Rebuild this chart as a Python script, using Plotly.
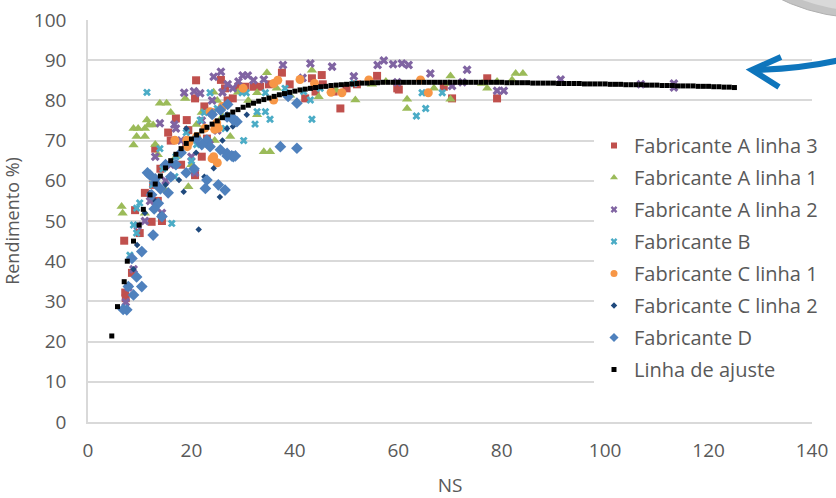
import plotly.graph_objects as go

# ---------------- data ----------------
a3_x = [20.9, 25.7, 20.7, 17, 19.1, 19.4, 13, 12.6, 9.1, 12.3, 7.0, 8.5, 7.2, 7.3, 20.7, 14.3,
        29.1, 30.4, 32, 33.3, 37.5, 43.3, 45.2, 45.4, 47.5, 44, 48.8, 55.9, 59.8, 60.1, 68.8, 70.4,
        77.2, 79.1, 16, 18, 22, 15.5, 24, 27, 22.5, 26.5, 14, 11, 10, 28, 35, 39, 52, 50, 42, 23, 19, 13.5]
a3_y = [85, 85.1, 80.5, 75.5, 75.1, 72.6, 68, 59, 52.7, 49.8, 45.1, 37.1, 32.2, 30.8, 61.4, 50,
        83.4, 83.4, 83.4, 83.4, 86.9, 85.5, 86.3, 84, 82.2, 82.2, 78, 86.1, 83, 82.7, 83.4, 80.5,
        85.5, 80.5, 70, 64, 66, 72, 77, 80, 78.5, 83, 63, 57, 47, 80.5, 84, 84, 84, 83, 80.5, 70.5, 69, 55]

a1_x = [13.9, 15.2, 18.8, 24.3, 11.4, 8.8, 9.7, 11, 12.6, 11.7, 8.8, 9.4, 11, 6.5, 6.7, 11, 19.4, 14.9,
        34.6, 32.7, 39.1, 44.6, 51.7, 43.3, 54.9, 57.6, 34, 35.2, 32.7, 27.5, 61.7, 61.7, 66.9, 70.1,
        69.8, 70.1, 76.2, 77.2, 79.1, 82, 82.7, 84.1, 20, 22, 17, 24.5, 26, 29, 31, 16, 21, 13, 25,
        36.5, 48, 13.5]
a1_y = [79.3, 79.3, 80.5, 82, 75.1, 73, 73, 73, 73.9, 73.9, 68.9, 71, 71, 53.6, 51.9, 51.9, 58.5, 57.7,
        86.9, 81.9, 81.3, 80.9, 80.1, 87.5, 84, 84.7, 67.2, 67.2, 76.4, 71, 80.3, 78, 83, 86.1,
        84.2, 80.3, 84.2, 83, 84.7, 85.1, 86.7, 86.7, 64, 77, 66, 70, 76, 82, 80, 77, 74, 69, 80,
        83, 82.5, 66.5]

a2_x = [24.3, 25.7, 18.6, 20.5, 21.7, 13.9, 16.7, 17, 13, 20.7, 14.3, 9.6, 7.8, 7.3, 8.8, 29.1, 29.9,
        30.9, 34, 37.7, 43, 47.2, 41.5, 51.4, 57.2, 56, 59, 60.7, 62, 66.2, 73.3, 70.4, 72.4, 79.1,
        80.4, 91.4, 59.8, 106.9, 113.3, 113.3, 24, 26, 22, 18, 16, 27, 32, 15, 12, 11, 23.5, 20, 25, 28]
a2_y = [85.9, 87.1, 81.9, 82.3, 81.8, 74.3, 74, 73, 66, 62, 52, 48.8, 33.5, 29.8, 38, 84.7, 86.2,
        86.2, 85.2, 88.8, 89.2, 88.4, 85.6, 86, 89.9, 88.8, 89, 89.2, 88.8, 86.7, 87.6, 83.6, 84.5, 82.4,
        82.4, 85.2, 84.5, 84, 84.2, 83.2, 80, 82, 75, 70, 64, 84, 85, 60, 55, 50, 69, 66, 72.5, 83]

b_x = [11.4, 23.6, 21.7, 13.9, 16.8, 9.4, 8.8, 16.2, 8.1, 9.4, 29.8, 30.6, 34.3, 38.1, 41.7, 43, 44.9,
       51.4, 34.3, 32.7, 35.2, 32.3, 43.3, 30.1, 64.6, 68.5, 65.3, 63.5, 19, 21, 25, 17, 12.5, 14.5, 27,
       20, 10, 26.5, 22.5]
b_y = [82, 81.9, 75.1, 68, 61, 53.2, 49, 49.4, 41.5, 47, 81.9, 81.9, 81.9, 83, 82.2, 80.1, 83,
       84.2, 77.2, 77.2, 75.3, 74.1, 75.3, 70, 81.9, 81.9, 78, 76.1, 72, 69, 78, 66, 59, 63, 76,
       65, 54.5, 73, 77]

c1_x = [23.6, 24.9, 25.2, 22.6, 24.5, 16.8, 19.1, 19.2, 24.3, 35.9, 36.7, 41, 43.8, 49.1, 54.3, 35.9,
        64.3, 65.8, 25, 24, 19.5, 21, 26, 30, 47]
c1_y = [77.2, 74.4, 73.1, 73.1, 72.8, 70.1, 70.1, 68.5, 66, 84.2, 85, 85.2, 84.2, 81.9, 85.1, 80.1,
        85.1, 81.9, 64.5, 65.5, 69.5, 71, 78.5, 83, 82]

c2_x = [19, 26.9, 20.9, 24.3, 21.4, 18.5, 17.6, 30.7, 8.8, 15, 13, 11, 22.5, 25.5, 28, 16.5, 12, 9.5,
        14, 23, 26]
c2_y = [73, 73, 67, 63.1, 47.9, 57.3, 60.2, 76.4, 38, 59, 55, 52, 61, 56, 73.5, 64, 57, 44,
        51.5, 58, 70]

d_x = [25.6, 26.9, 28.1, 28.8, 23, 23.6, 25.6, 26.9, 28.1, 12, 13, 12.3, 13.6, 14.3, 12.6, 10.4, 8.5,
       9.4, 10.4, 7.8, 8.8, 7.5, 6.8, 23, 25.2, 26.5, 22.7, 37.2, 40.4, 40.4, 38.7, 28.1, 26.9, 27.8,
       28.5, 11.5, 13, 14, 15.5, 16, 17, 19, 20.5, 22, 24, 27, 21, 18, 15, 12.8]
d_y = [77.6, 75.9, 75.1, 74.7, 70.1, 68.5, 67.7, 66.8, 66, 61.4, 59.4, 56.5, 54.4, 51.1, 46.5, 42.4, 40.7,
       36.1, 33.7, 33.7, 31.6, 27.9, 28, 60.2, 59, 57.7, 58.1, 68.5, 68.1, 79.3, 81, 75.5, 66.2, 66.2,
       66.2, 62, 60.5, 58, 57, 61, 64, 62, 63, 69, 76.5, 79, 70.5, 67, 64, 53]

fit_x = [4.6, 5.7, 7.0, 7.6, 8.8, 9.9, 10.7, 12, 13, 14, 15, 16, 17, 18, 19, 20, 21, 22, 23, 24, 25,
         26, 27, 28, 29, 30, 31, 32, 33, 34, 35, 36, 37, 38, 39, 40, 41, 42, 43, 44, 45, 46, 47, 48,
         49, 50, 51, 52, 53, 54, 55, 56, 57, 58, 59, 60, 61, 62, 63, 64, 65, 66, 67, 68, 69, 70, 71,
         72, 73, 74, 75, 76, 77, 78, 79, 80, 81, 82, 83, 84, 85, 86, 87, 88, 89, 90, 91, 92, 93, 94,
         95, 96, 97, 98, 99, 100, 101, 102, 103, 104, 105, 106, 107, 108, 109, 110, 111, 112, 113,
         114, 115, 116, 117, 118, 119, 120, 121, 122, 123, 124, 125]
fit_y = [21.4, 28.7, 34.9, 40.0, 45.0, 49.0, 52.9, 56.5, 59.2, 61.2, 63.2, 65.0, 66.6, 68.0, 69.3,
         70.4, 71.4, 72.4, 73.3, 74.1, 74.9, 75.7, 76.4, 77.1, 77.7, 78.3, 78.8, 79.3, 79.8, 80.2,
         80.6, 81.0, 81.4, 81.7, 82.0, 82.3, 82.6, 82.8, 83.0, 83.2, 83.4, 83.5, 83.7, 83.8, 83.9,
         84.0, 84.1, 84.2, 84.3, 84.3, 84.4, 84.4, 84.5, 84.5, 84.5, 84.5,
         84.5, 84.5, 84.5, 84.5, 84.5, 84.5, 84.5, 84.5, 84.5, 84.5, 84.5, 84.5, 84.5, 84.5, 84.5,
         84.5, 84.5, 84.5, 84.5, 84.5,
         84.4, 84.4, 84.4, 84.4, 84.4, 84.3, 84.3, 84.3, 84.3, 84.3,
         84.2, 84.2, 84.2, 84.2, 84.2, 84.1, 84.1, 84.1, 84.1, 84.1,
         84.0, 84.0, 84.0, 83.9, 83.9, 83.9, 83.9, 83.8, 83.8, 83.8,
         83.7, 83.7, 83.7, 83.6, 83.6, 83.6, 83.6, 83.5, 83.5, 83.5,
         83.4, 83.4, 83.3, 83.3, 83.2]

series_names = ["Fabricante A linha 3", "Fabricante A linha 1", "Fabricante A linha 2",
                "Fabricante B", "Fabricante C linha 1", "Fabricante C linha 2",
                "Fabricante D", "Linha de ajuste"]
x_ticks = [0, 20, 40, 60, 80, 100, 120, 140]
y_ticks = [0, 10, 20, 30, 40, 50, 60, 70, 80, 90, 100]

# ---------------- styling ----------------
styles = [
    (a3_x, a3_y, "square", "#C0504D", 8, 6),
    (a1_x, a1_y, "triangle-up", "#9BBB59", 9, 7),
    (a2_x, a2_y, "x", "#8064A2", 8, 6),
    (b_x, b_y, "x", "#4BACC6", 7, 6),
    (c1_x, c1_y, "circle", "#F79646", 9, 7),
    (c2_x, c2_y, "diamond", "#1F497D", 5, 5),
    (d_x, d_y, "diamond", "#4F81BD", 9, 7),
    (fit_x, fit_y, "square", "#000000", 5, 5),
]

FONT = "Open Sans"
GRAY = "#595959"

fig = go.Figure()
for (xs, ys, sym, col, sz, lsz), name in zip(styles, series_names):
    fig.add_trace(go.Scatter(
        x=xs, y=ys, mode="markers", name=name, showlegend=False,
        marker=dict(symbol=sym, color=col, size=sz, line=dict(width=0)),
    ))
# legend entries (small legend markers, like the original)
for (xs, ys, sym, col, sz, lsz), name in zip(styles, series_names):
    fig.add_trace(go.Scatter(
        x=[None], y=[None], mode="markers", name=name, legendgroup=name,
        marker=dict(symbol=sym, color=col, size=lsz, line=dict(width=0)),
    ))

# plot area in pixels
L, R, T, B = 88, 812, 20, 422
W, H = 836, 498


def pu(px):
    return (px - L) / (R - L)


def pv(py):
    return (B - py) / (B - T)


shapes = []
# decorative grey sphere at top-right
shapes.append(dict(type="circle", xref="paper", yref="paper",
                   x0=pu(673), x1=pu(1053), y0=pv(18), y1=pv(-362),
                   fillcolor="#c4c4c4", line=dict(color="#b0b0b0", width=1)))
shapes.append(dict(type="circle", xref="paper", yref="paper",
                   x0=pu(683), x1=pu(1045), y0=pv(11), y1=pv(-355),
                   fillcolor="#d9d9d9", line=dict(width=0)))
shapes.append(dict(type="circle", xref="paper", yref="paper",
                   x0=pu(700), x1=pu(1035), y0=pv(0), y1=pv(-345),
                   fillcolor="#ebebeb", line=dict(width=0)))


def P(px, py):
    return f"{pu(px):.5f},{pv(py):.5f}"


shaft = f"M {P(753, 70)} Q {P(800, 69)} {P(840, 60)}"
head = f"M {P(781, 57)} L {P(752, 70)} L {P(779, 87)}"
for pth in (shaft, head):
    shapes.append(dict(type="path", xref="paper", yref="paper", path=pth,
                       line=dict(color="#0E75BC", width=6)))

fig.update_layout(
    width=W, height=H,
    margin=dict(l=L, r=W - R, t=T, b=H - B, autoexpand=False),
    paper_bgcolor="white", plot_bgcolor="white",
    font=dict(family=FONT, size=19, color=GRAY),
    showlegend=True,
    legend=dict(x=pu(594), y=pv(126), xanchor="left", yanchor="top",
                bgcolor="white", font=dict(family=FONT, size=20, color=GRAY),
                tracegroupgap=3, itemsizing="trace"),
    shapes=shapes,
    xaxis=dict(range=[0, 140], tickvals=x_ticks, showgrid=False, zeroline=False,
               showline=True, linecolor="#d9d9d9", linewidth=1.5, automargin=False,
               ticks="", ticklabelstandoff=10,
               title=dict(text="NS", font=dict(size=19, color=GRAY), standoff=19),
               tickfont=dict(size=19, color=GRAY)),
    yaxis=dict(range=[0, 100], tickvals=y_ticks, showgrid=True, gridcolor="#d9d9d9", gridwidth=1.5,
               zeroline=False, showline=True, linecolor="#d9d9d9", linewidth=1.5, automargin=False,
               ticks="", ticklabelstandoff=16,
               title=dict(text="Rendimento %)", font=dict(size=18, color=GRAY), standoff=10),
               tickfont=dict(size=19, color=GRAY)),
)

fig.write_html("out.html")
